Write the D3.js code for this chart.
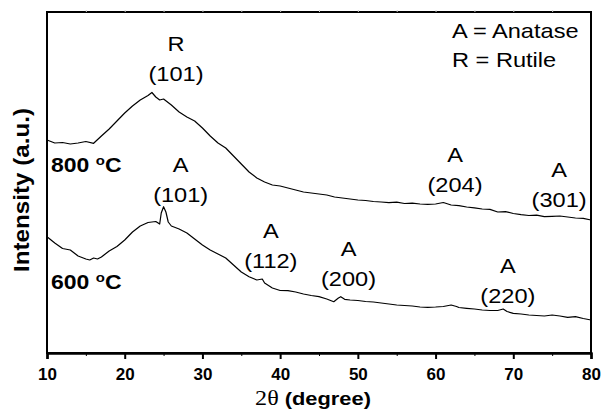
<!DOCTYPE html>
<html>
<head>
<meta charset="utf-8">
<script src="https://cdn.jsdelivr.net/npm/d3@7"></script>
<style>
  body { margin: 0; background: #fff; }
  text { font-family: Arial, "Liberation Sans", sans-serif; fill: #000; }
</style>
</head>
<body>
<div id="chart"></div>
<script>
// SVG size
var svgWidth = 601;
var svgHeight = 415;

// plot box
var margin = { top: 12, right: 10, bottom: 62, left: 47 };
var chartWidth = svgWidth - margin.left - margin.right;
var chartHeight = svgHeight - margin.top - margin.bottom;

// data (2theta in degrees, intensity in a.u.)
var angles800 = [10,11,12,13,14,15,16,17,18,19,20,21,22,23,23.5,24,24.5,25,26,27,28,29,30,31,32,33,34,35,36,37,38,39,40,41,42,43,44,45,46,47,48,49,50,51,52,53,54,55,56,57,58,59,60,61,62,63,64,65,66,67,68,69,70,71,72,73,74,75,76,77,78,79,80];
var intensity800 = [213,210,210.5,209,210,211.5,209.7,217,224,232,240,247,253,257.5,260.5,256,253,254,248,241,236,232,225,217,210,205,197,189,181,175,171,168,167,165,163,161,160,159,158,156,155,154,153,152.5,151.5,151,150.3,150.8,149.5,149.8,149,148.6,149,150.5,148,147.4,146,145.2,144,143.6,141,141.4,139.5,138.4,137.5,137.8,136.3,136.6,137,136,135,134.6,133];

var angles600 = [10,11,12,13,14,15,15.5,16,16.5,17,18,19,20,21,22,23,24,24.5,24.7,25,25.3,25.6,26,27,28,29,30,31,32,33,34,35,36,37,37.7,38,39,40,41,42,43,44,45,46,46.9,47.5,47.8,48.3,49,50,51,52,53,54,55,56,57,58,59,60,61,62,62.7,63,64,65,66,67,68,68.7,69.2,70,71,72,73,74,75,76,77,78,79,80];
var intensity600 = [116.3,110,104.5,103,97,94,93,95,94,96,102,106.5,113,121,127,130.5,131.5,129,140,146.3,141,131,127,124,120,114,108,103,99,95,88,81,76.3,73,74,70,65,62.5,62.3,61,59,57.5,56.3,54,51.3,55,56.3,53.7,53,52.5,51.5,51,50,49,48,47.5,47,46,45.7,46,46.5,48,46.5,45.5,44.7,44,43,42.5,42.5,44,41.5,39.7,39,38,37.5,37,38,37,35.7,36.3,34.5,33];

// peak labels
var peakPhase = ["R", "A", "A", "A", "A", "A", "A"];
var peakHkl = ["(101)", "(101)", "(112)", "(200)", "(204)", "(301)", "(220)"];
var peakAngle = [26.6, 27.2, 38.8, 48.8, 62.5, 75.9, 69.3];
var peakLevel = [302, 181, 115, 97, 191, 176, 80];

var xTicks = [10, 20, 30, 40, 50, 60, 70, 80];
var xMinorTicks = [15, 25, 35, 45, 55, 65, 75];

var svg = d3.select("#chart")
  .append("svg")
  .attr("width", svgWidth)
  .attr("height", svgHeight);

var chartGroup = svg.append("g")
  .attr("transform", "translate(" + margin.left + ", " + margin.top + ")");

var xScale = d3.scaleLinear().domain([10, 80]).range([0, chartWidth]);
var yScale = d3.scaleLinear().domain([0, 341]).range([chartHeight, 0]);

// curves
var line = d3.line()
  .x(function (d) { return xScale(d[0]); })
  .y(function (d) { return yScale(d[1]); });

[[angles800, intensity800], [angles600, intensity600]].forEach(function (s) {
  chartGroup.append("path")
    .datum(d3.zip(s[0], s[1]))
    .attr("fill", "none")
    .attr("stroke", "#000")
    .attr("stroke-width", 1.2)
    .attr("stroke-linejoin", "round")
    .attr("d", line);
});

// frame
chartGroup.append("rect")
  .attr("x", 0).attr("y", 0)
  .attr("width", chartWidth).attr("height", chartHeight)
  .attr("fill", "none").attr("stroke", "#000").attr("stroke-width", 2);

// bottom axis
var bottomAxis = d3.axisBottom(xScale).tickValues(xTicks).tickSize(6).tickPadding(9).tickFormat(d3.format("d"));
var xAxisG = chartGroup.append("g")
  .attr("transform", "translate(0, " + chartHeight + ")")
  .call(bottomAxis);
xAxisG.select(".domain").attr("stroke-width", 2.5);
xAxisG.selectAll(".tick line").attr("stroke-width", 2);
xAxisG.selectAll(".tick text")
  .style("font-family", "Arial, 'Liberation Sans', sans-serif")
  .style("font-size", "17px").style("font-weight", "bold");

chartGroup.append("g")
  .attr("transform", "translate(0, " + chartHeight + ")")
  .call(d3.axisBottom(xScale).tickValues(xMinorTicks).tickSize(3).tickFormat(""))
  .call(function (g) { g.select(".domain").remove(); g.selectAll("line").attr("stroke-width", 1); });

// faint top ticks
chartGroup.append("g")
  .call(d3.axisTop(xScale).tickValues(xMinorTicks.concat(xTicks.slice(1, -1))).tickSize(2).tickFormat(""))
  .call(function (g) { g.select(".domain").remove(); g.selectAll("line").attr("stroke", "#ccc"); });

// stretched text helper (the original is wider than plain Arial)
function label(x, y, str, size, weight, anchor) {
  return chartGroup.append("text")
    .attr("transform", "translate(" + x + "," + y + ") scale(1.18,1)")
    .attr("text-anchor", anchor || "middle")
    .style("font-size", size + "px")
    .style("font-weight", weight || "normal")
    .text(str);
}

// peak annotations
peakPhase.forEach(function (p, i) {
  var x = xScale(peakAngle[i]);
  var y = yScale(peakLevel[i]);
  label(x, y, p, 20);
  label(x, y + 30, peakHkl[i], 20);
});

// legend
label(405, 26, "A = Anatase", 20, "normal", "start");
label(405, 55, "R = Rutile", 20, "normal", "start");

// sample temperatures
[["800", 160], ["600", 277]].forEach(function (t) {
  var tx = chartGroup.append("text")
    .attr("transform", "translate(4," + t[1] + ") scale(1.15,1)")
    .style("font-size", "20px").style("font-weight", "bold");
  tx.append("tspan").text(t[0] + " ");
  tx.append("tspan").attr("dy", -7).style("font-size", "13px").text("o");
  tx.append("tspan").attr("dy", 7).text("C");
});

// axis titles
var xt = svg.append("text")
  .attr("transform", "translate(" + (margin.left + chartWidth / 2 - 6) + ",405) scale(1.15,1)")
  .attr("text-anchor", "middle")
  .style("font-size", "19px");
xt.append("tspan").style("font-family", "'Times New Roman', 'Liberation Serif', serif").style("font-size", "21px").text("2θ ");
xt.append("tspan").style("font-weight", "bold").text("(degree)");

svg.append("text")
  .attr("transform", "translate(29," + 190 + ") rotate(-90) scale(1.1,1)")
  .attr("text-anchor", "middle")
  .style("font-size", "22px").style("font-weight", "bold")
  .text("Intensity (a.u.)");
</script>
</body>
</html>
